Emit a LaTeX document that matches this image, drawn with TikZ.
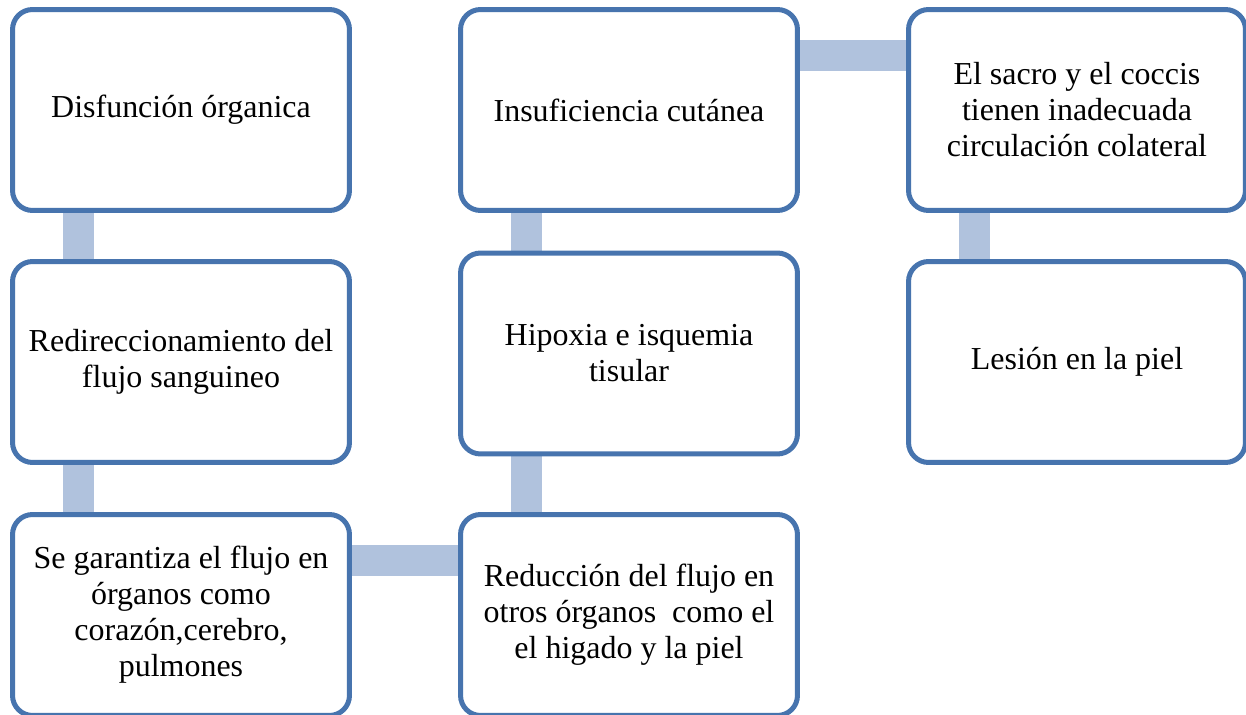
\documentclass[tikz,border=0pt]{standalone}
\usepackage{fontspec}
\setmainfont{Liberation Serif}
\usetikzlibrary{backgrounds}
\definecolor{boxblue}{HTML}{4774AE}
\definecolor{linkblue}{HTML}{B0C2DD}
\begin{document}
\begin{tikzpicture}[
    x=0.02cm, y=-0.02cm,
    box/.style={draw=boxblue, fill=white, line width=0.1cm, rounded corners=0.4cm,
                minimum width=6.74cm, minimum height=4.02cm, align=center,
                font=\fontsize{18.2}{20.5}\selectfont},
    link/.style={draw=linkblue, line width=0.62cm}
  ]
    \useasboundingbox (0,0) rectangle (1246,715);

    \node[box] (dis)    at (181,110)  {Disfunción órganica};
    \node[box] (redir)  at (181,362)  {Redireccionamiento del\\flujo sanguineo};
    \node[box] (garant) at (181,615)  {Se garantiza el flujo en\\órganos como\\corazón,cerebro,\\pulmones};
    \node[box] (reduc)  at (629,615)  {Reducción del flujo en\\otros órganos\ \ como el\\el higado y la piel};
    \node[box] (hipox)  at (629,353.5) {Hipoxia e isquemia\\tisular};
    \node[box] (insuf)  at (629,110)  {Insuficiencia cutánea};
    \node[box] (sacro)  at (1077,110) {El sacro y el coccis\\tienen inadecuada\\circulación colateral};
    \node[box] (lesion) at (1077,362) {Lesión en la piel};

    \begin{pgfonlayer}{background}
    \draw[link] ([xshift=1.36cm]dis.south west)    -- ([xshift=1.36cm]redir.north west);
    \draw[link] ([xshift=1.36cm]redir.south west)  -- ([xshift=1.36cm]garant.north west);
    \draw[link] ([yshift=-0.97cm]garant.north east) -- ([yshift=-0.97cm]reduc.north west);
    \draw[link] ([xshift=1.36cm]reduc.north west)  -- ([xshift=1.36cm]hipox.south west);
    \draw[link] ([xshift=1.36cm]hipox.north west)  -- ([xshift=1.36cm]insuf.south west);
    \draw[link] ([yshift=-0.97cm]insuf.north east)  -- ([yshift=-0.97cm]sacro.north west);
    \draw[link] ([xshift=1.36cm]sacro.south west)  -- ([xshift=1.36cm]lesion.north west);
    \end{pgfonlayer}
  \end{tikzpicture}
\end{document}
